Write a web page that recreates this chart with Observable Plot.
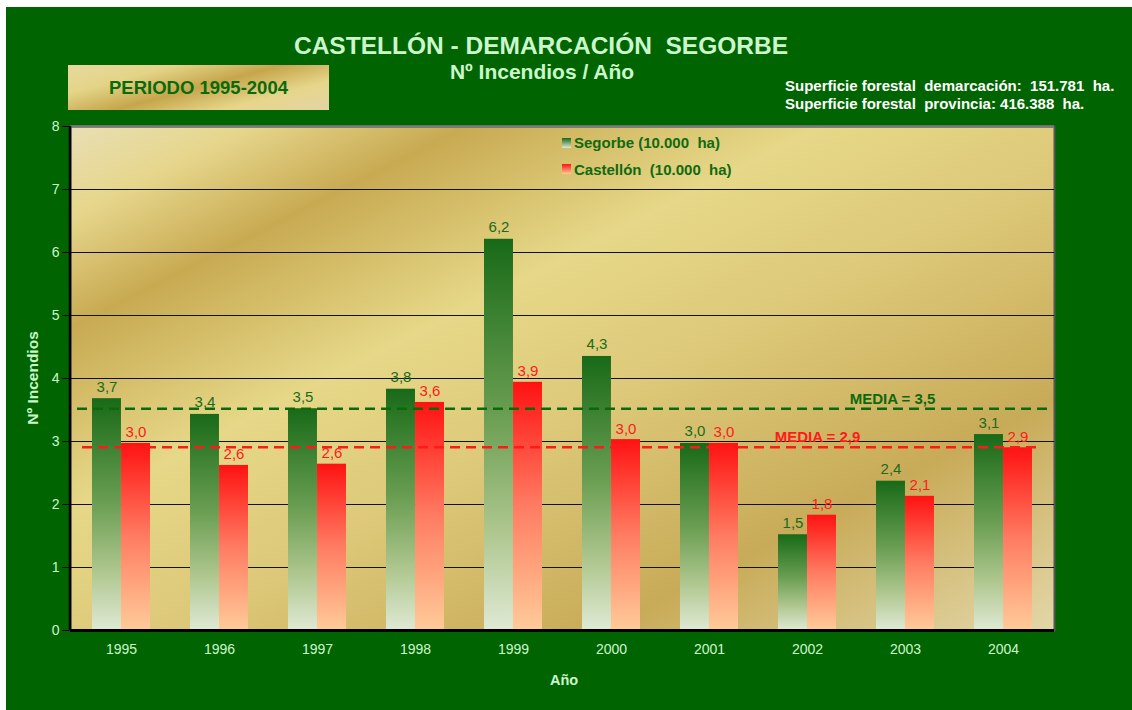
<!DOCTYPE html>
<html>
<head>
<meta charset="utf-8">
<script src="https://cdn.jsdelivr.net/npm/d3@7"></script>
<script src="https://cdn.jsdelivr.net/npm/@observablehq/plot@0.6"></script>
<style>
  html, body { margin: 0; padding: 0; background: #ffffff; }
  #wrap { position: relative; width: 1132px; height: 710px; overflow: hidden; font-family: "Liberation Sans", Arial, sans-serif; }
  #bg { position: absolute; left: 6px; top: 7px; right: 0; bottom: 0; background: #006400; }
  #chart { position: absolute; left: 0; top: 0; }
  .t { position: absolute; white-space: pre; font-weight: bold; line-height: 1.15; }
  #title { left: 0; width: 1082px; text-align: center; top: 32px; font-size: 24.5px; color: #ccf7cc; }
  #subtitle { left: 0; width: 1084px; text-align: center; top: 60px; font-size: 21px; color: #ccf7cc; }
  #sup { left: 785px; top: 77px; font-size: 15px; line-height: 18px; color: #ffffff; }
  #periodo { position: absolute; left: 68px; top: 65px; width: 261px; height: 45px;
    background: linear-gradient(165deg, #e6d9a0 0%, #e4d488 25%, #c6a64c 50%, #e6d68a 75%, #e2d4a6 100%); }
  #periodo span { position: absolute; left: 0; width: 261px; text-align: center; top: 12px; font-size: 18.5px; line-height: 1.15; color: #0a6a0a; font-weight: bold; }
  #ylab { left: 33px; top: 378px; font-size: 15.5px; color: #ccf7cc; transform: translate(-50%, -50%) rotate(-90deg); }
  #xlab { left: 564px; top: 680px; font-size: 14.5px; color: #ccf7cc; transform: translate(-50%, -50%); }
  .leg { position: absolute; font-size: 15px; line-height: 17px; font-weight: bold; color: #106a10; white-space: pre; }
  .sw { position: absolute; width: 9px; height: 10px; }
  g[aria-label="y-axis"] line, g[aria-label="y-axis"] path { stroke: #000; }
  g[aria-label="y-axis tick"] { color: #000; }
</style>
</head>
<body>
<div id="wrap">
  <div id="bg"></div>
  <div id="chart"></div>
  <div class="t" id="title">CASTELLÓN - DEMARCACIÓN  SEGORBE</div>
  <div class="t" id="subtitle">Nº Incendios / Año</div>
  <div id="periodo"><span>PERIODO 1995-2004</span></div>
  <div class="t" id="sup">Superficie forestal  demarcación:  151.781  ha.
Superficie forestal  provincia: 416.388  ha.</div>
  <div class="t" id="ylab">Nº Incendios</div>
  <div class="t" id="xlab">Año</div>
  <div class="sw" style="left:562px;top:138px;background:linear-gradient(#186a18,#dfe9d4);"></div>
  <div class="leg" style="left:574px;top:134px;">Segorbe (10.000  ha)</div>
  <div class="sw" style="left:562px;top:164px;background:linear-gradient(#ff1212,#ffcb98);"></div>
  <div class="leg" style="left:574px;top:161px;">Castellón  (10.000  ha)</div>
</div>
<script>
const years = ["1995","1996","1997","1998","1999","2000","2001","2002","2003","2004"];
const segorbe = [3.68, 3.43, 3.52, 3.83, 6.21, 4.35, 2.97, 1.52, 2.37, 3.11];
const castellon = [2.97, 2.62, 2.64, 3.62, 3.94, 3.03, 2.97, 1.83, 2.13, 2.90];
const mediaSegorbe = 3.52;
const mediaCastellon = 2.91;
const yTicks = [0, 1, 2, 3, 4, 5, 6, 7, 8];

const rows = years.map((year, i) => ({year, segorbe: segorbe[i], castellon: castellon[i]}));
const fmt = v => v.toFixed(1).replace(".", ",");

const W = 1132, H = 710, mL = 70, mR = 78, mT = 126, mB = 80;
const pIn = 0.41, pOut = 0.205;
const step = (W - mL - mR) / (years.length - pIn + 2 * pOut);
const bw = step * (1 - pIn);

const plot = Plot.plot({
  width: W, height: H,
  marginLeft: mL, marginRight: mR, marginTop: mT, marginBottom: mB,
  style: {background: "transparent", color: "#ccf7cc", fontFamily: "'Liberation Sans', Arial, sans-serif", fontSize: "14px", overflow: "visible"},
  x: {domain: years, paddingInner: pIn, paddingOuter: pOut, label: null, tickSize: 0, tickPadding: 14},
  y: {domain: [0, 8], ticks: yTicks, label: null, tickSize: 8, tickPadding: 3, tickFormat: d => String(d)},
  marks: [
    Plot.frame({fill: "url(#goldBg)", stroke: "#555", strokeWidth: 2}),
    Plot.ruleY(yTicks.slice(1, -1), {stroke: "#111", strokeWidth: 1.2}),
    Plot.ruleY([8], {stroke: "#7a7a7a", strokeWidth: 2.5}),
    Plot.barY(rows, {x: "year", y: "segorbe", fill: "url(#gGreen)", insetRight: bw / 2}),
    Plot.barY(rows, {x: "year", y: "castellon", fill: "url(#gRed)", insetLeft: bw / 2}),
    Plot.ruleY([mediaSegorbe], {stroke: "#0a6a0a", strokeWidth: 2.5, strokeDasharray: "10,6", insetLeft: 7, insetRight: 4}),
    Plot.ruleY([mediaCastellon], {stroke: "#ff1a1a", strokeWidth: 2.5, strokeDasharray: "10,6", insetLeft: 12, insetRight: 14}),
    Plot.text(rows, {x: "year", y: "segorbe", text: d => fmt(d.segorbe), dx: -bw / 4, dy: -7, lineAnchor: "bottom", fill: "#1a6b1a", fontSize: 15}),
    Plot.text(rows, {x: "year", y: "castellon", text: d => fmt(d.castellon), dx: bw / 4, dy: -6, lineAnchor: "bottom", fill: "#ff1a1a", fontSize: 15}),
    Plot.text([mediaSegorbe], {x: () => years[8], y: d => d, text: d => "MEDIA = " + fmt(d), dx: -13, dy: -5, lineAnchor: "bottom", fill: "#0a6a0a", fontSize: 15, fontWeight: "bold"}),
    Plot.text([mediaCastellon], {x: () => years[7], y: d => d, text: d => "MEDIA = " + fmt(d), dx: 10, dy: -5, lineAnchor: "bottom", fill: "#ff1a1a", fontSize: 15, fontWeight: "bold"}),
    Plot.ruleY([0], {stroke: "#000", strokeWidth: 3})
  ]
});

const svg = d3.select(plot);
const defs = svg.insert("defs", ":first-child");
const g1 = defs.append("linearGradient").attr("id", "gGreen").attr("x1", 0).attr("y1", 0).attr("x2", 0).attr("y2", 1);
[[0, "#186a18"], [0.45, "#6a9e52"], [0.75, "#afc78f"], [1, "#dfe9d4"]].forEach(([o, c]) => g1.append("stop").attr("offset", o).attr("stop-color", c));
const g2 = defs.append("linearGradient").attr("id", "gRed").attr("x1", 0).attr("y1", 0).attr("x2", 0).attr("y2", 1);
[[0, "#ff1212"], [0.5, "#ff7c62"], [1, "#ffcb98"]].forEach(([o, c]) => g2.append("stop").attr("offset", o).attr("stop-color", c));
const g3 = defs.append("linearGradient").attr("id", "goldBg").attr("gradientUnits", "userSpaceOnUse")
  .attr("x1", mL).attr("y1", mT).attr("x2", mL + 407).attr("y2", mT + 798);
[[0, "#e8dfb4"], [0.09, "#e6d68c"], [0.2, "#c8aa52"], [0.38, "#e6d888"], [0.55, "#dcc878"], [0.77, "#c8ab58"], [1, "#e3d7a8"]]
  .forEach(([o, c]) => g3.append("stop").attr("offset", o).attr("stop-color", c));
// left axis line
svg.append("line").attr("x1", mL).attr("x2", mL).attr("y1", mT).attr("y2", H - mB).attr("stroke", "#000").attr("stroke-width", 2.5);

document.getElementById("chart").appendChild(plot);
</script>
</body>
</html>
